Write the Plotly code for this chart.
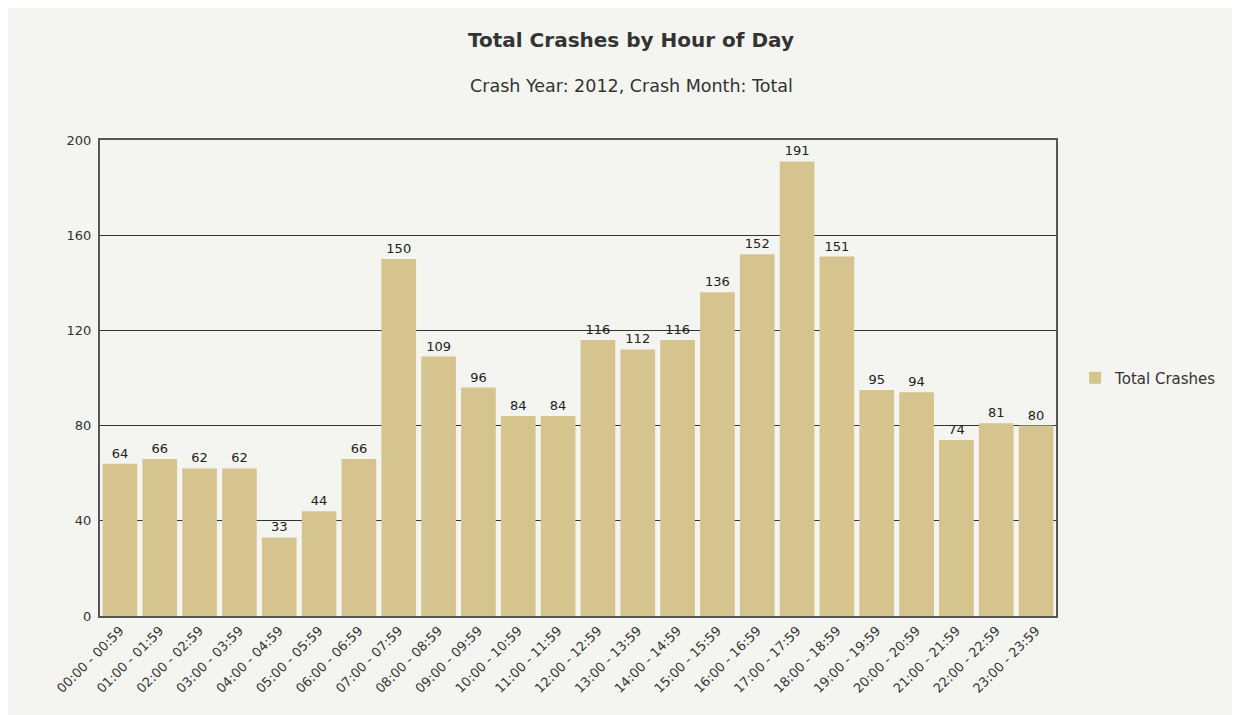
import plotly.graph_objects as go

hours = [f"{h:02d}:00 - {h:02d}:59" for h in range(24)]
crashes = [64, 66, 62, 62, 33, 44, 66, 150, 109, 96, 84, 84, 116, 112, 116, 136, 152, 191, 151, 95, 94, 74, 81, 80]
y_ticks = [0, 40, 80, 120, 160, 200]

BAR = "#d6c48f"
BG = "#f4f4f0"
FONT = "DejaVu Sans"

fig = go.Figure()
fig.add_trace(go.Bar(
    x=hours, y=crashes, name="Total Crashes",
    marker=dict(color=BAR, line=dict(width=0)),
    text=crashes, textposition="outside", cliponaxis=False,
    textfont=dict(family=FONT, size=13, color="#222"),
    showlegend=True,
))

H = 715
fig.update_layout(
    width=1240, height=715,
    paper_bgcolor=BG, plot_bgcolor=BG,
    margin=dict(l=92, r=192, t=132, b=107),
    bargap=0.13,
    font=dict(family=FONT, color="#333"),
    title=dict(
        text="<b>Total Crashes by Hour of Day</b>",
        x=(631 - 8) / 1240, xanchor="center", y=1 - 32 / H, yanchor="middle",
        font=dict(family=FONT, size=20, color="#333"),
    ),
    annotations=[dict(
        text="Crash Year: 2012, Crash Month: Total",
        xref="paper", yref="paper", x=(631 - 100) / 956, y=1 + (140 - 86) / 476,
        xanchor="center", yanchor="middle", showarrow=False,
        font=dict(family=FONT, size=17.5, color="#333"),
    )],
    legend=dict(
        x=1.02, y=0.5, xanchor="left", yanchor="middle",
        font=dict(family=FONT, size=15, color="#333"),
        bgcolor="rgba(0,0,0,0)",
    ),
    xaxis=dict(
        tickangle=-45, tickfont=dict(family=FONT, size=13, color="#333"),
        showline=True, linecolor="#555", linewidth=2, mirror=True,
        ticks="", showgrid=False,
    ),
    yaxis=dict(
        range=[0, 200], tickvals=y_ticks, ticktext=[str(v) for v in y_ticks],
        tickfont=dict(family=FONT, size=13, color="#333"),
        showline=True, linecolor="#555", linewidth=2, mirror=True,
        showgrid=True, gridcolor="#333", gridwidth=1,
        ticks="", ticklabelstandoff=4,
        zeroline=False,
    ),
)

fig.write_html("out.html")
